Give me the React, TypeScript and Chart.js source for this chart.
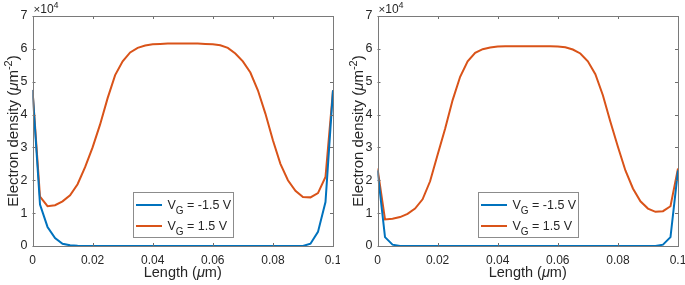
import React, { useEffect, useRef } from "react";
import { Chart, registerables } from "chart.js";

Chart.register(...registerables);

// ---- data (electron density in units of 1e4 µm^-2) ----
const lengthUm = [
  0, 0.0025, 0.005, 0.0075, 0.01, 0.0125, 0.015, 0.0175, 0.02, 0.0225,
  0.025, 0.0275, 0.03, 0.0325, 0.035, 0.0375, 0.04, 0.0425, 0.045, 0.0475,
  0.05, 0.0525, 0.055, 0.0575, 0.06, 0.0625, 0.065, 0.0675, 0.07, 0.0725,
  0.075, 0.0775, 0.08, 0.0825, 0.085, 0.0875, 0.09, 0.0925, 0.095, 0.0975, 0.1,
];

const leftNeg = [
  4.75, 1.26, 0.58, 0.24, 0.07, 0.02, 0.005, 0, 0, 0,
  0, 0, 0, 0, 0, 0, 0, 0, 0, 0,
  0, 0, 0, 0, 0, 0, 0, 0, 0, 0,
  0, 0, 0, 0, 0, 0, 0, 0.07, 0.43, 1.34, 4.74,
];
const leftPos = [
  4.75, 1.5, 1.21, 1.24, 1.36, 1.54, 1.88, 2.4, 3.0, 3.7,
  4.5, 5.2, 5.62, 5.89, 6.03, 6.1, 6.14, 6.15, 6.16, 6.16,
  6.16, 6.16, 6.16, 6.15, 6.14, 6.11, 6.03, 5.86, 5.62, 5.28,
  4.74, 4.03, 3.22, 2.5, 2.0, 1.68, 1.49, 1.48, 1.61, 2.1, 4.74,
];
const rightNeg = [
  2.3, 0.27, 0.04, 0, 0, 0, 0, 0, 0, 0,
  0, 0, 0, 0, 0, 0, 0, 0, 0, 0,
  0, 0, 0, 0, 0, 0, 0, 0, 0, 0,
  0, 0, 0, 0, 0, 0, 0, 0, 0.04, 0.27, 2.3,
];
const rightPos = [
  2.36, 0.81, 0.83, 0.88, 0.98, 1.14, 1.42, 1.97, 2.78, 3.57,
  4.44, 5.15, 5.62, 5.88, 5.99, 6.04, 6.07, 6.08, 6.08, 6.08,
  6.08, 6.08, 6.08, 6.08, 6.07, 6.05, 5.98, 5.86, 5.62, 5.23,
  4.59, 3.78, 3.02, 2.3, 1.75, 1.36, 1.14, 1.04, 1.06, 1.21, 2.36,
];

const xTicks = [0, 0.02, 0.04, 0.06, 0.08, 0.1];
const yTicks = [0, 1, 2, 3, 4, 5, 6, 7];
const seriesNames = [
  { base: "V", sub: "G", rest: " = -1.5 V" },
  { base: "V", sub: "G", rest: " = 1.5 V" },
];
const BLUE = "#0072BD";
const ORANGE = "#D95319";
const TEXT = "#262626";
const FONT = "'Liberation Sans', Arial, Helvetica, sans-serif";

type Seg = { text: string; size: number; dy?: number; italic?: boolean };

function drawRich(ctx: CanvasRenderingContext2D, segs: Seg[], x: number, y: number, align: "left" | "center") {
  let total = 0;
  const widths = segs.map((s) => {
    ctx.font = `${s.italic ? "italic " : ""}${s.size}px ${FONT}`;
    const w = ctx.measureText(s.text).width;
    total += w;
    return w;
  });
  let cx = align === "center" ? x - total / 2 : x;
  segs.forEach((s, i) => {
    ctx.font = `${s.italic ? "italic " : ""}${s.size}px ${FONT}`;
    ctx.fillText(s.text, cx, y + (s.dy || 0));
    cx += widths[i];
  });
}

const decorPlugin = {
  id: "matlabDecor",
  afterDraw(chart: any) {
    const ctx: CanvasRenderingContext2D = chart.ctx;
    const a = chart.chartArea;
    const xs = chart.scales.x;
    const ys = chart.scales.y;
    ctx.save();
    // ticks (inward, mirrored)
    ctx.strokeStyle = "#6e6e6e";
    ctx.lineWidth = 1;
    ctx.beginPath();
    xTicks.forEach((v) => {
      const px = Math.round(xs.getPixelForValue(v)) + 0.5;
      ctx.moveTo(px, a.bottom);
      ctx.lineTo(px, a.bottom - 3);
      ctx.moveTo(px, a.top);
      ctx.lineTo(px, a.top + 3);
    });
    yTicks.forEach((v) => {
      const py = Math.round(ys.getPixelForValue(v)) + 0.5;
      ctx.moveTo(a.left, py);
      ctx.lineTo(a.left + 3, py);
      ctx.moveTo(a.right, py);
      ctx.lineTo(a.right - 3, py);
    });
    ctx.stroke();
    // box
    ctx.strokeStyle = "#7a7a7a";
    ctx.strokeRect(Math.round(a.left) + 0.5, Math.round(a.top) + 0.5, Math.round(a.right) - Math.round(a.left), Math.round(a.bottom) - Math.round(a.top));

    ctx.fillStyle = TEXT;
    ctx.textBaseline = "alphabetic";
    ctx.textAlign = "left";
    // exponent
    drawRich(ctx, [
      { text: "\u00d7", size: 11.5 },
      { text: "10", size: 12 },
      { text: "4", size: 9, dy: -5 },
    ], a.left + 1, a.top - 3, "left");

    // x title
    drawRich(ctx, [
      { text: "Length (", size: 14.5 },
      { text: "\u03bc", size: 14.5, italic: true },
      { text: "m)", size: 14.5 },
    ], (a.left + a.right) / 2, 277, "center");

    // y title
    ctx.save();
    ctx.translate(18, (a.top + a.bottom) / 2);
    ctx.rotate(-Math.PI / 2);
    drawRich(ctx, [
      { text: "Electron density (", size: 15 },
      { text: "\u03bc", size: 15, italic: true },
      { text: "m", size: 15 },
      { text: "-2", size: 11, dy: -6 },
      { text: ")", size: 15 },
    ], 0, 0, "center");
    ctx.restore();

    // legend
    const lx = 133.5, ly = 192.5, lw = 100, lh = 45;
    ctx.fillStyle = "#ffffff";
    ctx.fillRect(lx, ly, lw, lh);
    ctx.strokeStyle = "#8c8c8c";
    ctx.lineWidth = 1;
    ctx.strokeRect(lx, ly, lw, lh);
    chart.data.datasets.forEach((ds: any, i: number) => {
      const cy = ly + 12.5 + i * 21;
      ctx.strokeStyle = ds.borderColor;
      ctx.lineWidth = 2;
      ctx.beginPath();
      ctx.moveTo(lx + 2.5, cy);
      ctx.lineTo(lx + 28.5, cy);
      ctx.stroke();
      ctx.fillStyle = TEXT;
      const n = seriesNames[i];
      drawRich(ctx, [
        { text: n.base, size: 12.5 },
        { text: n.sub, size: 10, dy: 5 },
        { text: n.rest, size: 12.5 },
      ], lx + 34, cy + 4.3, "left");
    });
    ctx.restore();
  },
};

function Panel({ neg, pos, left }: { neg: number[]; pos: number[]; left: number }) {
  const ref = useRef<HTMLCanvasElement | null>(null);
  useEffect(() => {
    if (!ref.current) return;
    const chart = new Chart(ref.current, {
      type: "line",
      data: {
        datasets: [
          {
            label: "VG = -1.5 V",
            data: lengthUm.map((x, i) => ({ x, y: neg[i] })),
            borderColor: BLUE,
            borderWidth: 2,
            pointRadius: 0,
            tension: 0,
            fill: false,
          },
          {
            label: "VG = 1.5 V",
            data: lengthUm.map((x, i) => ({ x, y: pos[i] })),
            borderColor: ORANGE,
            borderWidth: 2,
            pointRadius: 0,
            tension: 0,
            fill: false,
          },
        ],
      },
      options: {
        animation: false,
        responsive: false,
        maintainAspectRatio: false,
        layout: { padding: { top: 16, right: 7, left: 0, bottom: 0 } },
        plugins: { legend: { display: false }, tooltip: { enabled: false } },
        scales: {
          x: {
            type: "linear",
            min: 0,
            max: 0.1,
            grid: { display: false, drawTicks: false },
            border: { display: false },
            afterBuildTicks: (s: any) => {
              s.ticks = xTicks.map((v) => ({ value: v }));
            },
            afterFit: (s: any) => {
              s.height = 39;
              s.paddingLeft = 0;
              s.paddingRight = 0;
            },
            ticks: {
              color: TEXT,
              padding: 7,
              maxRotation: 0,
              autoSkip: false,
              font: { family: FONT, size: 12 },
              callback: (v: any) => String(Number(Number(v).toFixed(3))),
            },
          },
          y: {
            type: "linear",
            min: 0,
            max: 7,
            grid: { display: false, drawTicks: false },
            border: { display: false },
            afterBuildTicks: (s: any) => {
              s.ticks = yTicks.map((v) => ({ value: v }));
            },
            afterFit: (s: any) => {
              s.width = 32.5;
              s.paddingTop = 0;
              s.paddingBottom = 0;
            },
            ticks: {
              color: TEXT,
              padding: 5,
              autoSkip: false,
              font: { family: FONT, size: 12.5 },
              callback: (v: any) => String(v),
            },
          },
        },
      },
      plugins: [decorPlugin],
    } as any);
    return () => chart.destroy();
  }, [neg, pos]);
  return (
    <canvas
      ref={ref}
      width={340}
      height={285}
      style={{ position: "absolute", left, top: 0, width: 340, height: 285 }}
    />
  );
}

export default function App() {
  return (
    <div style={{ position: "fixed", left: 0, top: 0, width: 685, height: 285, background: "#fff", overflow: "hidden" }}>
      <Panel neg={leftNeg} pos={leftPos} left={0} />
      <Panel neg={rightNeg} pos={rightPos} left={345} />
    </div>
  );
}
